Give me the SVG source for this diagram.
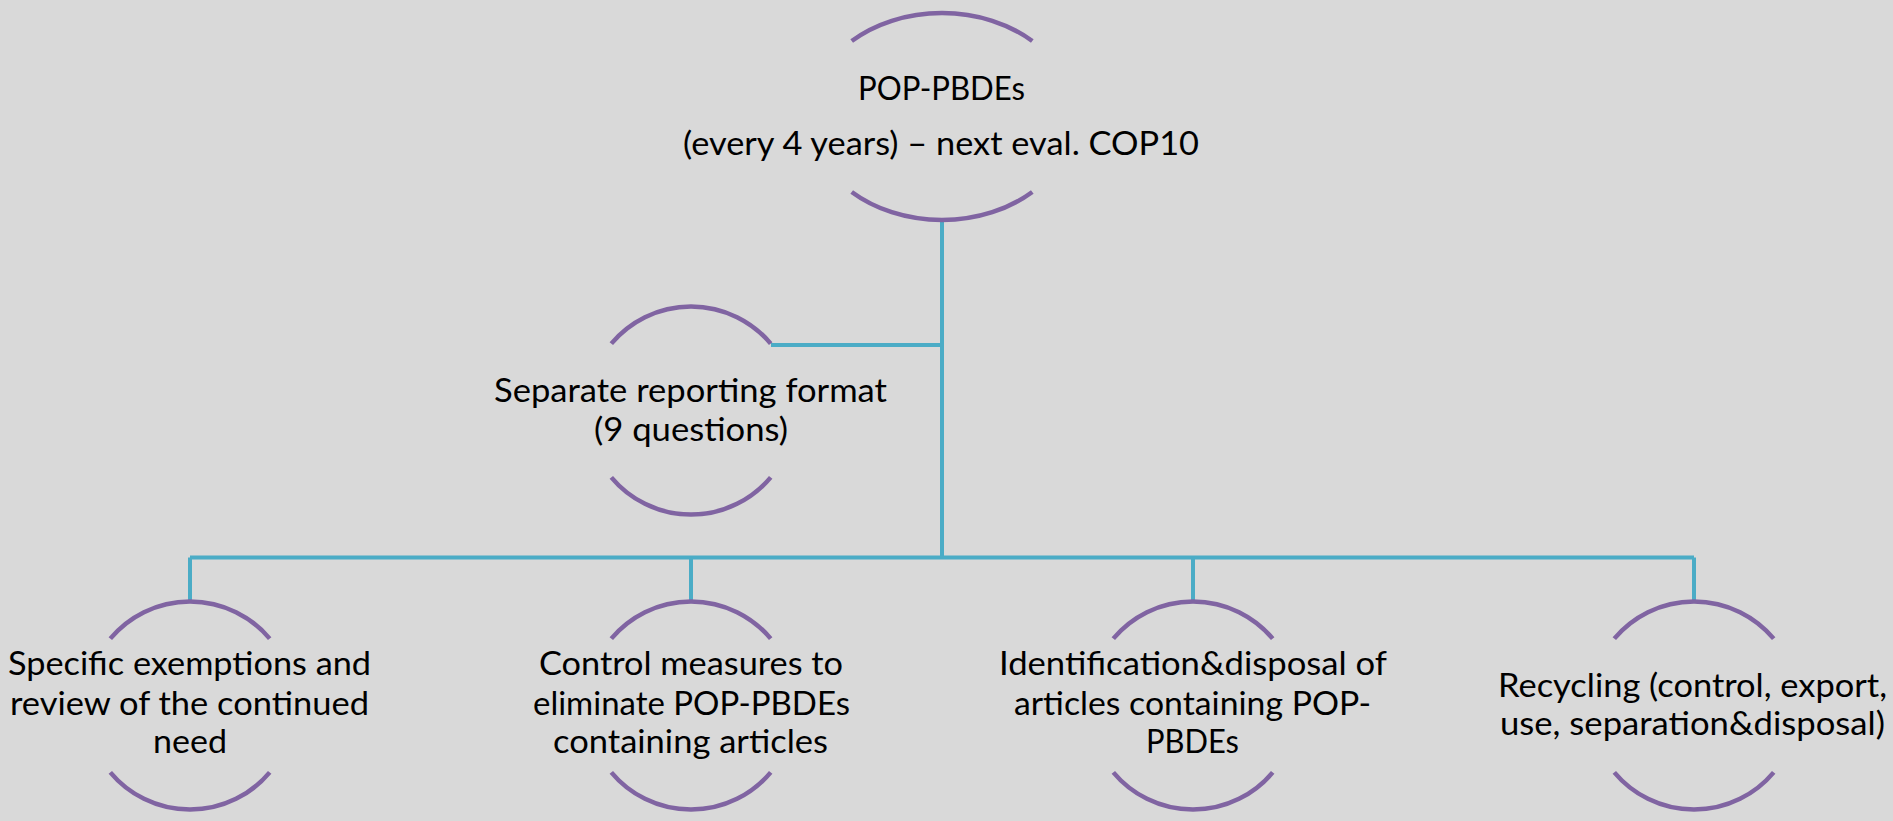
<svg xmlns="http://www.w3.org/2000/svg" width="1893" height="821" viewBox="0 0 1893 821">
<style>
.arc{fill:none;stroke:#8064A2;stroke-width:4.5}
.con{fill:none;stroke:#4BACC6;stroke-width:4}
text{font-family:Lato,"Open Sans","Liberation Sans",sans-serif;font-size:33px;fill:#000;text-anchor:middle}
</style>
<rect width="1893" height="821" fill="#D9D9D9"/>
<g id="connectors">
<path class="con" d="M942,220 V557.5"/>
<path class="con" d="M771,345 H942"/>
<path class="con" d="M190,557.5 H1694"/>
<path class="con" d="M190,557.5 V602"/>
<path class="con" d="M691,557.5 V602"/>
<path class="con" d="M1193,557.5 V602"/>
<path class="con" d="M1694,557.5 V602"/>
</g>
<g id="node-top">
<path class="arc" d="M851.7,41 A132 103.5 0 0 1 1032.3,41"/>
<path class="arc" d="M851.7,192 A132 103.5 0 0 0 1032.3,192"/>
<text x="941.5" y="100" textLength="167" lengthAdjust="spacingAndGlyphs">POP-PBDEs</text>
<text x="941" y="155" textLength="516" lengthAdjust="spacingAndGlyphs">(every 4 years) – next eval. COP10</text>
</g>
<g id="node-reporting">
<path class="arc" d="M611.3,343.6 A104 104 0 0 1 770.7,343.6"/>
<path class="arc" d="M611.3,477.4 A104 104 0 0 0 770.7,477.4"/>
<text x="690.5" y="402" textLength="393" lengthAdjust="spacingAndGlyphs">Separate reporting format</text>
<text x="691" y="441" textLength="194" lengthAdjust="spacingAndGlyphs">(9 questions)</text>
</g>
<g id="node-exemptions">
<path class="arc" d="M110.3,638.6 A104 104 0 0 1 269.7,638.6"/>
<path class="arc" d="M110.3,772.4 A104 104 0 0 0 269.7,772.4"/>
<text x="189.5" y="675" textLength="363" lengthAdjust="spacingAndGlyphs">Specific exemptions and</text>
<text x="189.5" y="715" textLength="359" lengthAdjust="spacingAndGlyphs">review of the continued</text>
<text x="190" y="753" textLength="74" lengthAdjust="spacingAndGlyphs">need</text>
</g>
<g id="node-control">
<path class="arc" d="M611.3,638.6 A104 104 0 0 1 770.7,638.6"/>
<path class="arc" d="M611.3,772.4 A104 104 0 0 0 770.7,772.4"/>
<text x="691" y="675" textLength="304" lengthAdjust="spacingAndGlyphs">Control measures to</text>
<text x="691.5" y="715" textLength="317" lengthAdjust="spacingAndGlyphs">eliminate POP-PBDEs</text>
<text x="690.5" y="753" textLength="275" lengthAdjust="spacingAndGlyphs">containing articles</text>
</g>
<g id="node-identification">
<path class="arc" d="M1113.3,638.6 A104 104 0 0 1 1272.7,638.6"/>
<path class="arc" d="M1113.3,772.4 A104 104 0 0 0 1272.7,772.4"/>
<text x="1193" y="675" textLength="388" lengthAdjust="spacingAndGlyphs">Identification&amp;disposal of</text>
<text x="1192.5" y="715" textLength="357" lengthAdjust="spacingAndGlyphs">articles containing POP-</text>
<text x="1192.5" y="753" textLength="93" lengthAdjust="spacingAndGlyphs">PBDEs</text>
</g>
<g id="node-recycling">
<path class="arc" d="M1614.3,638.6 A104 104 0 0 1 1773.7,638.6"/>
<path class="arc" d="M1614.3,772.4 A104 104 0 0 0 1773.7,772.4"/>
<text x="1692.5" y="697" textLength="389" lengthAdjust="spacingAndGlyphs">Recycling (control, export,</text>
<text x="1692.5" y="735" textLength="385" lengthAdjust="spacingAndGlyphs">use, separation&amp;disposal)</text>
</g>
</svg>
